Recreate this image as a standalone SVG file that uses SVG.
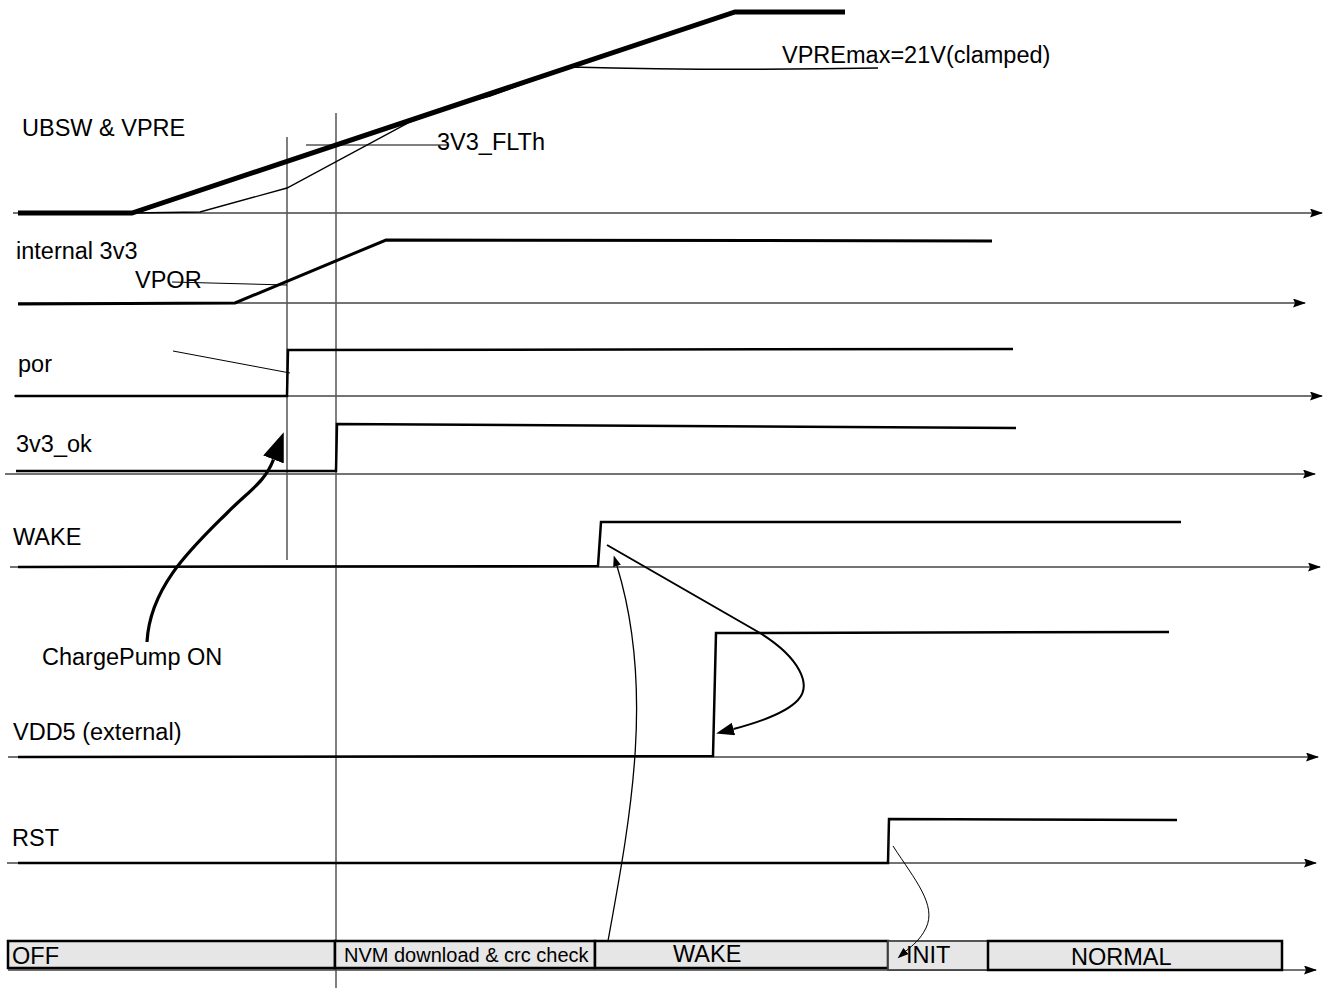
<svg xmlns="http://www.w3.org/2000/svg" width="1324" height="988" viewBox="0 0 1324 988">
<style>
text{font-family:"Liberation Sans",Arial,sans-serif;font-size:23.5px;fill:#000}
.ax{stroke:#444;stroke-width:1.5;fill:none}
.sig{stroke:#000;stroke-width:2.5;fill:none;stroke-linejoin:miter}
.thin{stroke:#000;stroke-width:1;fill:none}
.vl{stroke:#555;stroke-width:1.5;fill:none}
.box{fill:#e6e6e6;stroke:#000;stroke-width:2.5}
</style>
<defs>
<marker id="axh" markerUnits="userSpaceOnUse" markerWidth="14" markerHeight="10" refX="12" refY="4.5" orient="auto"><path d="M0,0 L13,4.5 L0,9 L2,4.5 Z" fill="#000"/></marker>
<marker id="big" markerUnits="userSpaceOnUse" markerWidth="30" markerHeight="22" refX="0" refY="11" orient="auto"><path d="M0,0 L29,11 L0,22 Z" fill="#000"/></marker>
<marker id="mid" markerUnits="userSpaceOnUse" markerWidth="19" markerHeight="14" refX="0" refY="6.5" orient="auto"><path d="M0,0 L18,6.5 L0,13 Z" fill="#000"/></marker>
<marker id="sm" markerUnits="userSpaceOnUse" markerWidth="12" markerHeight="9" refX="0" refY="4" orient="auto"><path d="M0,0 L11,4 L0,8 Z" fill="#000"/></marker>
</defs>

<g id="axes">
<line class="ax" x1="13" y1="213" x2="1322" y2="213" marker-end="url(#axh)"/>
<line class="ax" x1="18" y1="303" x2="1305" y2="303" marker-end="url(#axh)"/>
<line class="ax" x1="14" y1="396" x2="1322" y2="396" marker-end="url(#axh)"/>
<line class="ax" x1="5" y1="474" x2="1315" y2="474" marker-end="url(#axh)"/>
<line class="ax" x1="10" y1="567" x2="1320" y2="567" marker-end="url(#axh)"/>
<line class="ax" x1="8" y1="757" x2="1318" y2="757" marker-end="url(#axh)"/>
<line class="ax" x1="7" y1="863" x2="1316" y2="863" marker-end="url(#axh)"/>
<line class="ax" x1="8" y1="970" x2="1316" y2="970" marker-end="url(#axh)"/>
</g>

<g id="time-markers">
<line class="vl" x1="287" y1="137" x2="287" y2="560"/>
<line class="vl" x1="336" y1="113" x2="336" y2="988"/>
</g>

<g id="ubsw-vpre">
<text x="22" y="136">UBSW &amp; VPRE</text>
<path d="M132,213 L200,212 L287,188 L410,122 Q450,106 490,96 L570,67 Q720,71 878,68" class="thin" style="stroke-width:1.4"/>
<path d="M18,213 L132,213 L735,12 L845,12" class="sig" style="stroke-width:5"/>
<line class="thin" x1="306" y1="145" x2="448" y2="145"/>
<text x="437" y="150">3V3_FLTh</text>
<text x="782" y="63">VPREmax=21V(clamped)</text>
</g>

<g id="internal-3v3">
<text x="16" y="259">internal 3v3</text>
<path d="M18,304 L235,303 L386,240 L992,241" class="sig" style="stroke-width:3"/>
<text x="135" y="288">VPOR</text>
<line class="thin" x1="172" y1="282" x2="287" y2="285"/>
</g>

<g id="por">
<text x="18" y="372">por</text>
<path d="M15,396 L287,396 L288,350 L1013,349" class="sig"/>
<line class="thin" x1="173" y1="351" x2="290" y2="373"/>
</g>

<g id="3v3-ok">
<text x="16" y="452">3v3_ok</text>
<path d="M16,471 L336,471 L337,424 L1016,428" class="sig"/>
</g>

<g id="wake">
<text x="13" y="545">WAKE</text>
<path d="M18,567 L598,566 L601,522 L1181,522" class="sig"/>
</g>

<g id="chargepump">
<text x="42" y="665">ChargePump ON</text>
</g>

<g id="vdd5">
<text x="13" y="740">VDD5 (external)</text>
<path d="M18,757 L713,756 L716,633 L1169,632" class="sig"/>
</g>

<g id="rst">
<text x="12" y="846">RST</text>
<path d="M18,863 L888,863 L889,819 L1177,820" class="sig"/>
</g>

<g id="state-off"><rect class="box" x="8" y="941" width="327" height="27"/><text x="12" y="964">OFF</text></g>
<g id="state-nvm"><rect class="box" x="335" y="941" width="260" height="27"/><text x="344" y="962" style="font-size:20px">NVM download &amp; crc check</text></g>
<g id="state-wake"><rect class="box" x="595" y="941" width="293" height="27"/><text x="673" y="962">WAKE</text></g>
<g id="state-init"><rect class="box" x="888" y="941" width="100" height="29" style="stroke:#444;stroke-width:1.8"/><text x="906" y="963">INIT</text></g>
<g id="state-normal"><rect class="box" x="988" y="941" width="294" height="29"/><text x="1071" y="965">NORMAL</text></g>

<g id="connectors">
<path d="M147,642 C150,585 195,545 228,512 C250,490 265,482 273.5,459.5" fill="none" stroke="#000" stroke-width="3.2" marker-end="url(#big)"/>
<path d="M607,545 L760,633 C800,658 812,685 798,700 C786,713 760,722 733.5,729" fill="none" stroke="#000" stroke-width="2" marker-end="url(#mid)"/>
<path d="M608,941 C630,820 655,690 617,566" fill="none" stroke="#000" stroke-width="1.3" marker-end="url(#sm)"/>
<path d="M893,846 C915,880 937,905 926,928 C920,940 913,945 906,951" fill="none" stroke="#000" stroke-width="1" marker-end="url(#sm)"/>
</g>
</svg>
